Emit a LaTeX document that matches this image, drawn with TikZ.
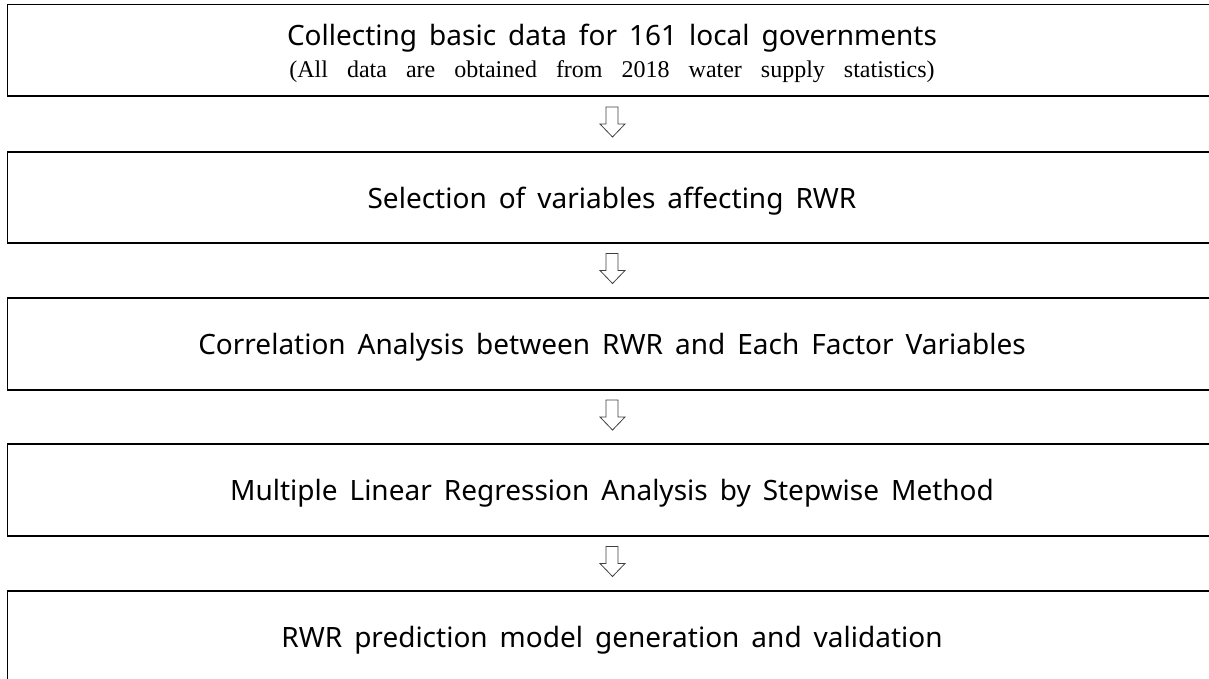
\documentclass[tikz,border=0pt]{standalone}
\usepackage{fontspec}
\setmainfont{Noto Sans}
\newfontfamily\timesf{Liberation Serif}
\begin{document}
\begin{tikzpicture}[x=1pt,y=-1pt,
  stepbox/.style={draw=black,line width=1.3pt},
  main/.style={font={\fontsize{28}{32}\selectfont\spaceskip=12pt\relax},inner sep=0pt,anchor=base},
  sub/.style={font={\timesf\fontsize{24}{28}\selectfont\spaceskip=19pt\relax},inner sep=0pt,anchor=base},
  blockarrow/.style={draw=black!75,line width=0.8pt,fill=white,line join=miter}]
\useasboundingbox (0,0) rectangle (1209,679);
\clip (0,0) rectangle (1209,679);
\draw[stepbox] (7.5,4.5) rectangle (1220,96);
\draw[stepbox] (7.5,152) rectangle (1220,243);
\draw[stepbox] (7.5,298) rectangle (1220,390);
\draw[stepbox] (7.5,444) rectangle (1220,536);
\draw[stepbox] (7.5,591) rectangle (1220,690);
\node[main] (t1) at (612,46) {Collecting basic data for 161 local governments};
\node[sub] (t1b) at (612,78) {(All data are obtained from 2018 water supply statistics)};
\node[main] (t2) at (612,208) {Selection of variables affecting RWR};
\node[main] (t3) at (612,354.5) {Correlation Analysis between RWR and Each Factor Variables};
\node[main] (t4) at (612,500.5) {Multiple Linear Regression Analysis by Stepwise Method};
\node[main] (t5) at (612,647) {RWR prediction model generation and validation};
\foreach \y in {107,253.5,400,546.5}{
  \draw[blockarrow] (606,\y) -- (618,\y) -- (618,\y+17) -- (625,\y+17) -- (612.5,\y+30) -- (600,\y+17) -- (606,\y+17) -- cycle;
}
\end{tikzpicture}
\end{document}
